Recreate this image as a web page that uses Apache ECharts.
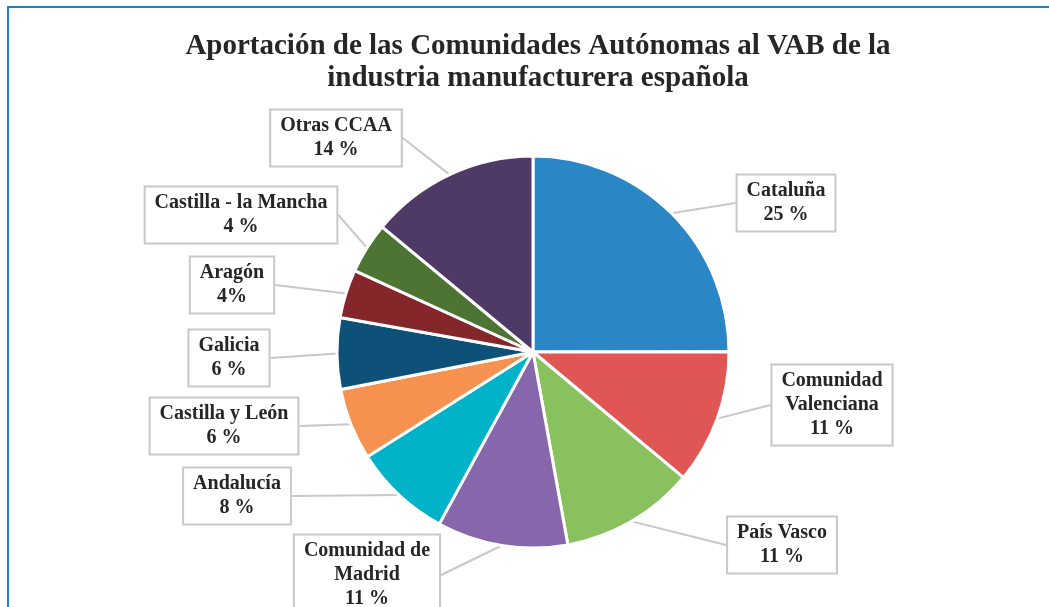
<!DOCTYPE html>
<html>
<head>
<meta charset="utf-8">
<script src="https://cdn.jsdelivr.net/npm/echarts@6/dist/echarts.min.js"></script>
<style>
  html, body { margin: 0; padding: 0; background: #fff; }
  #chart { width: 1049px; height: 607px; }
</style>
</head>
<body>
<div id="chart"></div>
<script type="text/javascript">
	// datos: porcentaje del VAB manufacturero por comunidad
	var regiones = ['Cataluña', 'Comunidad\nValenciana', 'País Vasco', 'Comunidad de\nMadrid', 'Andalucía',
		'Castilla y León', 'Galicia', 'Aragón', 'Castilla - la Mancha', 'Otras CCAA'];
	var valores = [25.0, 11.1, 11.1, 10.8, 8.1, 5.9, 5.9, 4.0, 4.2, 14.0];
	var etiquetas = ['25 %', '11 %', '11 %', '11 %', '8 %', '6 %', '6 %', '4%', '4 %', '14 %'];
	var colores = ['#2a86c4', '#e05654', '#88c15e', '#8667ac', '#00b3c9',
		'#f6914f', '#0e5178', '#85262a', '#4e7433', '#4f3966'];

	// centro de cada caja de etiqueta
	var posEtiquetas = [[786, 203], [832, 405], [782, 545], [367, 575], [237, 496],
		[224, 426], [229, 358], [232, 285], [241, 215], [336, 138]];

	var myChart = echarts.init(document.getElementById('chart'));

	var datos = [];
	for (var i = 0; i < regiones.length; i++) {
		datos.push({
			name: regiones[i],
			value: valores[i],
			pct: etiquetas[i],
			itemStyle: { color: colores[i] }
		});
	}

	var fuente = 'Liberation Serif';

	myChart.setOption({
		backgroundColor: '#fff',
		graphic: [{
			type: 'rect',
			shape: { x: 8, y: 7, width: 1100, height: 700 },
			style: { fill: 'none', stroke: '#2a7cc0', lineWidth: 2 },
			silent: true
		}],
		title: {
			text: 'Aportación de las Comunidades Autónomas al VAB de la\nindustria manufacturera española',
			left: 533,
			top: 26,
			textAlign: 'center',
			textStyle: {
				fontFamily: fuente,
				fontSize: 29,
				fontWeight: 'bold',
				color: '#262626',
				lineHeight: 32
			}
		},
		series: [{
			type: 'pie',
			center: [533, 352],
			radius: 196,
			startAngle: 90,
			clockwise: true,
			animation: false,
			data: datos,
			itemStyle: { borderColor: '#fff', borderWidth: 3 },
			label: {
				show: true,
				position: 'outside',
				formatter: function (p) { return p.name + '\n' + p.data.pct; },
				fontFamily: fuente,
				fontSize: 20,
				fontWeight: 'bold',
				lineHeight: 24,
				color: '#262626',
				align: 'center',
				backgroundColor: '#fff',
				borderColor: '#c8c8c8',
				borderWidth: 2,
				padding: [4, 9, 3, 9]
			},
			labelLine: {
				show: true,
				length: 8,
				length2: 0,
				lineStyle: { color: '#c8c8c8', width: 2 }
			},
			labelLayout: function (p) {
				var c = posEtiquetas[p.dataIndex];
				return { x: c[0], y: c[1], align: 'center', verticalAlign: 'middle' };
			},
			emphasis: { disabled: true }
		}]
	});
</script>
</body>
</html>
